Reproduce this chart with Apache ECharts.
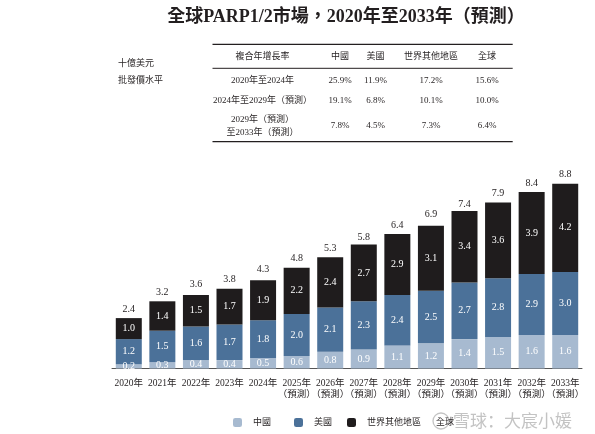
<!DOCTYPE html>
<html>
<head>
<meta charset="utf-8">
<script src="https://cdn.jsdelivr.net/npm/echarts@6/dist/echarts.min.js"></script>
<style>html,body{margin:0;padding:0;background:#fff;}#c{width:595px;height:434px;}</style>
</head>
<body>
<div id="c"></div>
<script>
var categories = ['2020年','2021年','2022年','2023年','2024年','2025年\n（預測）','2026年\n（預測）','2027年\n（預測）','2028年\n（預測）','2029年\n（預測）','2030年\n（預測）','2031年\n（預測）','2032年\n（預測）','2033年\n（預測）'];
var china = [0.2,0.3,0.4,0.4,0.5,0.6,0.8,0.9,1.1,1.2,1.4,1.5,1.6,1.6];
var usa = [1.2,1.5,1.6,1.7,1.8,2.0,2.1,2.3,2.4,2.5,2.7,2.8,2.9,3.0];
var restOfWorld = [1.0,1.4,1.5,1.7,1.9,2.2,2.4,2.7,2.9,3.1,3.4,3.6,3.9,4.2];
var totals = [2.4,3.2,3.6,3.8,4.3,4.8,5.3,5.8,6.4,6.9,7.4,7.9,8.4,8.8];

var tableHeader = ['複合年增長率','中國','美國','世界其他地區','全球'];
var tablePeriods = ['2020年至2024年','2024年至2029年（預測）','2029年（預測）\n至2033年（預測）'];
var cagrChina = ['25.9%','19.1%','7.8%'];
var cagrUsa = ['11.9%','6.8%','4.5%'];
var cagrRow = ['17.2%','10.1%','7.3%'];
var cagrGlobal = ['15.6%','10.0%','6.4%'];

var FONT = "'Liberation Serif','Noto Sans CJK TC',serif";
var TXT = '#231f20';

var colX = [262.5, 340, 375.5, 431, 487];
var rowY = [81, 100.5, 126];

var graphics = [];
graphics.push({type:'text', x: 346, y: 17, style:{text:'全球PARP1/2市場，2020年至2033年（預測）', fill:TXT, font:"bold 18px " + FONT, textAlign:'center', textVerticalAlign:'middle'}});
graphics.push({type:'line', shape:{x1:212.5,y1:44.3,x2:512.7,y2:44.3}, style:{stroke:'#231f20', lineWidth:1.2}});
graphics.push({type:'line', shape:{x1:212.5,y1:68.3,x2:512.7,y2:68.3}, style:{stroke:'#231f20', lineWidth:1}});
graphics.push({type:'line', shape:{x1:212.5,y1:141.7,x2:512.7,y2:141.7}, style:{stroke:'#231f20', lineWidth:1.2}});
tableHeader.forEach(function(h,i){
  graphics.push({type:'text', x: colX[i], y: 57, style:{text:h, fill:TXT, font:"9px " + FONT, textAlign:'center', textVerticalAlign:'middle'}});
});
var cols = [tablePeriods, cagrChina, cagrUsa, cagrRow, cagrGlobal];
cols.forEach(function(col,i){
  col.forEach(function(v,r){
    graphics.push({type:'text', x: colX[i], y: rowY[r], style:{text:v, fill:TXT, font:"9px " + FONT, textAlign:'center', textVerticalAlign:'middle', lineHeight:13}});
  });
});
graphics.push({type:'text', x: 118, y: 64, style:{text:'十億美元', fill:TXT, font:"9px " + FONT, textVerticalAlign:'middle'}});
graphics.push({type:'text', x: 118, y: 81, style:{text:'批發價水平', fill:TXT, font:"9px " + FONT, textVerticalAlign:'middle'}});
graphics.push({type:'circle', shape:{cx:441, cy:421, r:8}, style:{fill:'none', stroke:'rgba(170,170,170,0.7)', lineWidth:1.3}});
graphics.push({type:'text', x: 453, y: 421, style:{text:'雪球：大宸小媛', fill:'rgba(175,175,175,0.75)', font:"17px 'Noto Sans CJK SC'", textVerticalAlign:'middle'}});

var chart = echarts.init(document.getElementById('c'));
var inLabel = {show:true, position:'inside', color:'#fff', fontSize:10, fontFamily:FONT, formatter:function(p){return p.value.toFixed(1);}};
var legendBase = {top: 418, padding:0, itemWidth: 9, itemHeight: 9, textStyle:{color:TXT, fontSize:9, fontFamily:FONT, padding:[0,0,0,6]}};
chart.setOption({
  animation:false,
  grid:{left:112, right:13, bottom:65.5, top:158.5},
  legend:[
    Object.assign({left:233, data:['中國']}, legendBase),
    Object.assign({left:294, data:['美國']}, legendBase),
    Object.assign({left:347, data:['世界其他地區']}, legendBase),
    Object.assign({left:416, data:[{name:'全球', icon:'none'}]}, legendBase)
  ],
  xAxis:{type:'category', data:categories, axisTick:{show:false}, axisLine:{lineStyle:{color:'#555', width:1}},
    axisLabel:{interval:0, color:TXT, fontSize:9.5, fontFamily:FONT, margin:9, lineHeight:11}},
  yAxis:{type:'value', min:0, max:10, show:false},
  series:[
    {name:'中國', type:'bar', stack:'a', barWidth:26, data:china, itemStyle:{color:'#a7bad0'}, label:inLabel},
    {name:'美國', type:'bar', stack:'a', barWidth:26, data:usa, itemStyle:{color:'#4b7199'}, label:inLabel},
    {name:'世界其他地區', type:'bar', stack:'a', barWidth:26, data:restOfWorld, itemStyle:{color:'#1f1c1d'}, label:inLabel},
    {name:'全球', type:'bar', barWidth:26, barGap:'-100%', data:totals, z:1, itemStyle:{color:'rgba(0,0,0,0)'},
      label:{show:true, position:'top', distance:4, color:TXT, fontSize:10, fontFamily:FONT, formatter:function(p){return p.value.toFixed(1);}}}
  ],
  graphic:graphics
});
</script>
</body>
</html>
